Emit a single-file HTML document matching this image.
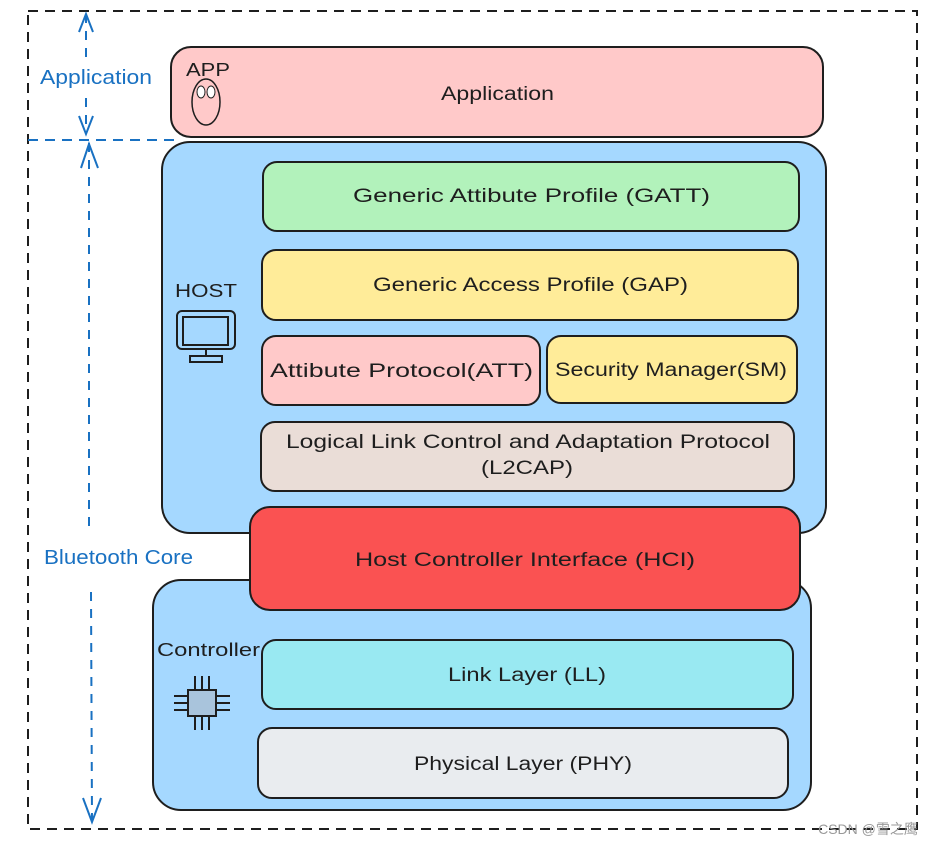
<!DOCTYPE html>
<html><head><meta charset="utf-8"><style>
body{margin:0;background:#fff;width:931px;height:843px;overflow:hidden}
text{font-family:"Liberation Sans","Noto Sans CJK SC",sans-serif}
</style></head><body>
<svg width="931" height="843" viewBox="0 0 931 843" xmlns="http://www.w3.org/2000/svg">
<rect x="28" y="11" width="889" height="818" fill="none" stroke="#1e1e1e" stroke-width="2" stroke-dasharray="10 7"/>
<line x1="28" y1="140" x2="178" y2="140" stroke="#1971c2" stroke-width="2" stroke-dasharray="10 7"/>
<g stroke="#1971c2" stroke-width="2" fill="none">
<line x1="86" y1="14" x2="86" y2="62" stroke-dasharray="9 8"/>
<line x1="86" y1="98" x2="86" y2="134" stroke-dasharray="9 8"/>
<path d="M79 32 L86 14 L93 32"/><path d="M79 116 L86 134 L93 116"/>
<line x1="89" y1="143" x2="89" y2="530" stroke-dasharray="9 8"/>
<line x1="91" y1="592" x2="92" y2="822" stroke-dasharray="9 8"/>
<path d="M81 168 L89 144 L98 168"/><path d="M83 798 L92 822 L101 798"/>
</g>
<text x="40" y="84" font-size="20" fill="#1971c2" textLength="112" lengthAdjust="spacingAndGlyphs">Application</text>
<text x="44" y="564" font-size="20" fill="#1971c2" textLength="149" lengthAdjust="spacingAndGlyphs">Bluetooth Core</text>
<g stroke="#1e1e1e" stroke-width="2">
<rect x="171" y="47" width="652" height="90" rx="20" fill="#ffc9c9"/>
<rect x="162" y="142" width="664" height="391" rx="28" fill="#a5d8ff"/>
<rect x="153" y="580" width="658" height="230" rx="28" fill="#a5d8ff"/>
<rect x="263" y="162" width="536" height="69" rx="14" fill="#b2f2bb"/>
<rect x="262" y="250" width="536" height="70" rx="14" fill="#ffec99"/>
<rect x="262" y="336" width="278" height="69" rx="14" fill="#ffc9c9"/>
<rect x="547" y="336" width="250" height="67" rx="14" fill="#ffec99"/>
<rect x="261" y="422" width="533" height="69" rx="14" fill="#eaddd7"/>
<rect x="250" y="507" width="550" height="103" rx="20" fill="#fa5252"/>
<rect x="262" y="640" width="531" height="69" rx="14" fill="#99e9f2"/>
<rect x="258" y="728" width="530" height="70" rx="14" fill="#e9ecef"/>
</g>
<g font-size="19" fill="#1e1e1e">
<text x="441" y="100" textLength="113" lengthAdjust="spacingAndGlyphs">Application</text>
<text x="353" y="202" textLength="357" lengthAdjust="spacingAndGlyphs">Generic Attibute Profile (GATT)</text>
<text x="373" y="291" textLength="315" lengthAdjust="spacingAndGlyphs">Generic Access Profile (GAP)</text>
<text x="270" y="377" textLength="263" lengthAdjust="spacingAndGlyphs">Attibute Protocol(ATT)</text>
<text x="555" y="376" textLength="232" lengthAdjust="spacingAndGlyphs">Security Manager(SM)</text>
<text x="286" y="448" textLength="484" lengthAdjust="spacingAndGlyphs">Logical Link Control and Adaptation Protocol</text>
<text x="481" y="474" textLength="92" lengthAdjust="spacingAndGlyphs">(L2CAP)</text>
<text x="355" y="566" textLength="340" lengthAdjust="spacingAndGlyphs">Host Controller Interface (HCI)</text>
<text x="448" y="681" textLength="158" lengthAdjust="spacingAndGlyphs">Link Layer (LL)</text>
<text x="414" y="770" textLength="218" lengthAdjust="spacingAndGlyphs">Physical Layer (PHY)</text>
</g>
<g font-size="18" fill="#1e1e1e">
<text x="186" y="76" textLength="44" lengthAdjust="spacingAndGlyphs">APP</text>
<text x="175" y="297" textLength="62" lengthAdjust="spacingAndGlyphs">HOST</text>
<text x="157" y="656" textLength="103" lengthAdjust="spacingAndGlyphs">Controller</text>
</g>
<ellipse cx="206" cy="102" rx="14" ry="23" fill="none" stroke="#1e1e1e" stroke-width="1.5"/>
<ellipse cx="201" cy="92" rx="4" ry="6" fill="#fff" stroke="#1e1e1e"/>
<ellipse cx="211" cy="92" rx="4" ry="6" fill="#fff" stroke="#1e1e1e"/>
<g fill="none" stroke="#1e1e1e" stroke-width="2">
<rect x="177" y="311" width="58" height="38" rx="5"/>
<rect x="183" y="317" width="45" height="28"/>
<line x1="206" y1="350" x2="206" y2="356"/>
<rect x="190" y="356" width="32" height="6"/>
</g>
<g stroke="#1e1e1e" stroke-width="2">
<line x1="195" y1="676" x2="195" y2="730"/><line x1="202" y1="676" x2="202" y2="730"/><line x1="209" y1="676" x2="209" y2="730"/>
<line x1="174" y1="696" x2="230" y2="696"/><line x1="174" y1="703" x2="230" y2="703"/><line x1="174" y1="710" x2="230" y2="710"/>
<rect x="188" y="690" width="28" height="26" fill="#a9c4dc"/>
</g>
<text x="868" y="834" font-size="14" fill="#999" text-anchor="middle">CSDN @雪之鹰</text>
</svg>
</body></html>
